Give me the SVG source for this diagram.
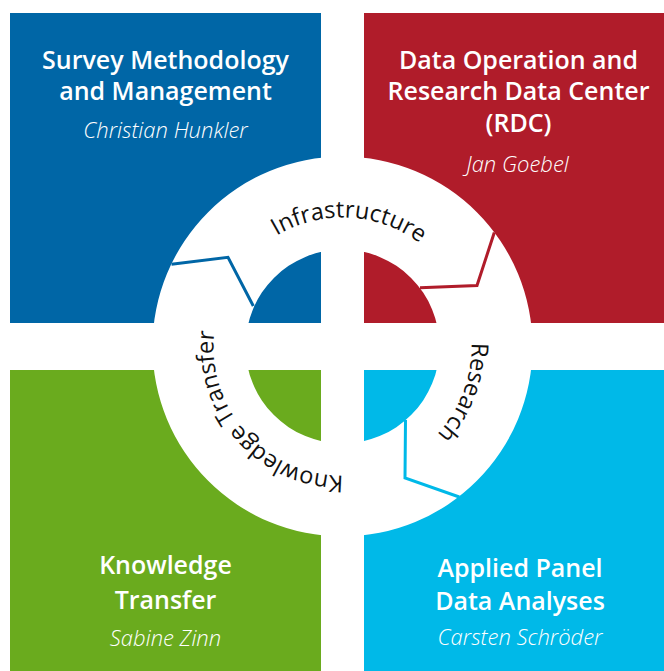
<svg xmlns="http://www.w3.org/2000/svg" xmlns:xlink="http://www.w3.org/1999/xlink" width="664" height="671" viewBox="0 0 664 671">
  <style>
    .title { font-family: "Open Sans", "Noto Sans", sans-serif; font-weight: 600; font-size: 25px; fill: #ffffff; text-anchor: middle; }
    .person { font-family: "Open Sans", "Noto Sans", sans-serif; font-weight: 300; font-style: italic; font-size: 22px; fill: #ffffff; text-anchor: middle; }
    .ring { font-family: "Open Sans", "Noto Sans", sans-serif; font-weight: 400; font-size: 23.5px; fill: #111111; text-anchor: middle; }
    .conn { fill: none; stroke-width: 3; stroke-linejoin: miter; }
  </style>
  <defs>
    <path id="ringPath" d="M230.78,282 A129,129 0 1,1 454.22,411 A129,129 0 1,1 230.78,282"/>
  </defs>
  <rect width="664" height="671" fill="#ffffff"/>

  <g id="survey">
    <rect x="10" y="13" width="311" height="310" fill="#0066a6"/>
  </g>
  <g id="rdc">
    <rect x="364" y="13" width="300" height="310" fill="#b01c2a"/>
  </g>
  <g id="knowledge">
    <rect x="10" y="370" width="311" height="301" fill="#6aab1e"/>
  </g>
  <g id="applied">
    <rect x="364" y="370" width="300" height="301" fill="#00b9e8"/>
  </g>

  <g id="ring">
    <path d="M152.5,346.5 a190,190 0 1,0 380,0 a190,190 0 1,0 -380,0 Z M245.5,346.5 a97,97 0 1,1 194,0 a97,97 0 1,1 -194,0 Z" fill="#ffffff" fill-rule="evenodd"/>
    <text class="ring"><textPath xlink:href="#ringPath" href="#ringPath" startOffset="141.8">Infrastructure</textPath></text>
    <text class="ring"><textPath xlink:href="#ringPath" href="#ringPath" startOffset="384">Research</textPath></text>
    <text class="ring"><textPath xlink:href="#ringPath" href="#ringPath" startOffset="648.4">Knowledge Transfer</textPath></text>
  </g>

  <g id="connectors">
    <polyline class="conn" stroke="#0066a6" points="171.5,264.3 228,257.3 253.3,306"/>
    <polyline class="conn" stroke="#b01c2a" points="494.3,232.5 477,285.5 420,287.8"/>
    <polyline class="conn" stroke="#00b9e8" points="405.5,420 405,478 459.3,497"/>
  </g>

  <g id="survey-text">
    <text class="title" x="165.5" y="69">Survey Methodology</text>
    <text class="title" x="165.5" y="100">and Management</text>
    <text class="person" x="165.5" y="137.5">Christian Hunkler</text>
  </g>
  <g id="rdc-text">
    <text class="title" x="518.5" y="68.5">Data Operation and</text>
    <text class="title" x="518.5" y="100">Research Data Center</text>
    <text class="title" x="518.5" y="131.5">(RDC)</text>
    <text class="person" x="517.5" y="171.5">Jan Goebel</text>
  </g>
  <g id="knowledge-text">
    <text class="title" x="165.5" y="573.5">Knowledge</text>
    <text class="title" x="165.5" y="608.5">Transfer</text>
    <text class="person" x="165.5" y="646">Sabine Zinn</text>
  </g>
  <g id="applied-text">
    <text class="title" x="520" y="576.5">Applied Panel</text>
    <text class="title" x="520" y="610">Data Analyses</text>
    <text class="person" x="520" y="645">Carsten Schröder</text>
  </g>
</svg>
